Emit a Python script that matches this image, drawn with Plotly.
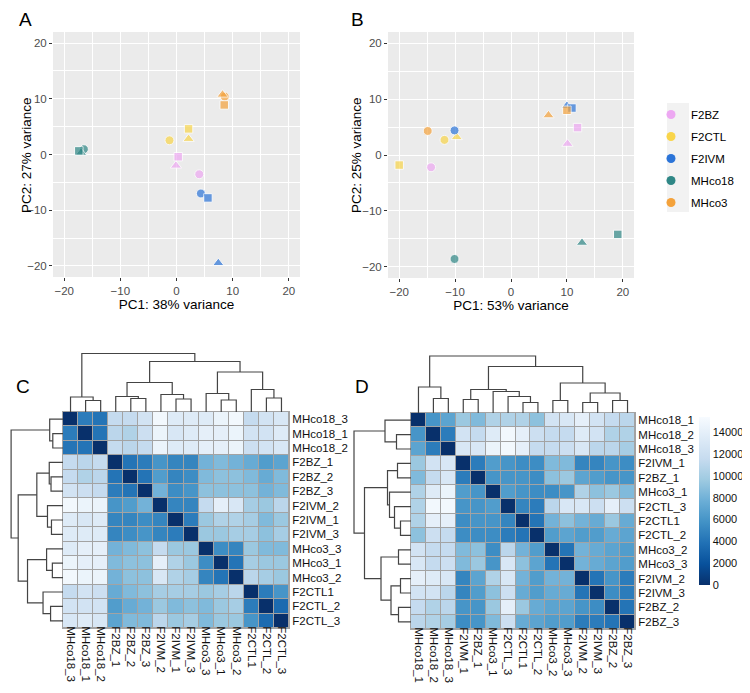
import plotly.graph_objects as go

W, H = 750, 693
OFF = 8  # the html page puts the figure 8px in from the top-left
FW, FH = W - OFF, H - OFF

# ---- PCA data -------------------------------------------------------------
groups = ["F2BZ", "F2CTL", "F2IVM", "MHco18", "MHco3"]
group_colors = ["#EDA8F2", "#F9D54A", "#2B74D8", "#2F8786", "#F4A23B"]
rep_symbols = ["circle", "triangle-up", "square"]

sample_group = ["F2BZ"] * 3 + ["F2CTL"] * 3 + ["F2IVM"] * 3 + ["MHco18"] * 3 + ["MHco3"] * 3
sample_rep = [0, 1, 2] * 5

a_pc1 = [4.05, -0.1, 0.3, -1.25, 2.15, 2.15, 4.35, 7.45, 5.6, -16.5, -17.0, -17.4, 8.6, 8.2, 8.5]
a_pc2 = [-3.55, -2.0, -0.4, 2.55, 2.8, 4.6, -7.0, -19.5, -7.8, 0.95, 0.3, 0.65, 10.4, 10.75, 8.9]
b_pc1 = [-14.3, 10.1, 11.9, -11.9, -9.7, -20.0, -10.1, 10.0, 10.9, -10.1, 12.7, 19.1, -14.9, 6.7, 10.0]
b_pc2 = [-2.2, 2.0, 4.9, 2.7, 3.2, -1.8, 4.4, 8.8, 8.4, -18.6, -15.7, -14.2, 4.3, 7.1, 8.0]

pca_ticks = [-20, -10, 0, 10, 20]
pca_minor = [-15, -5, 5, 15]

# ---- distance heatmaps -----------------------------------------------------
c_labels = ["MHco18_3", "MHco18_1", "MHco18_2", "F2BZ_1", "F2BZ_2", "F2BZ_3",
            "F2IVM_2", "F2IVM_1", "F2IVM_3", "MHco3_3", "MHco3_1", "MHco3_2",
            "F2CTL1", "F2CTL_2", "F2CTL_3"]
# upper triangle, thousands
c_upper = [
    [4.5, 4.0, 11.5, 11.5, 12.5, 15.0, 13.5, 13.5, 13.5, 14.5, 15.0, 11.5, 12.5, 13.0],
    [4.0, 11.0, 10.5, 12.0, 14.5, 13.0, 13.5, 14.0, 14.0, 14.5, 12.5, 12.5, 13.5],
    [11.5, 11.0, 11.5, 14.5, 13.5, 13.5, 14.0, 14.0, 14.5, 12.0, 12.5, 13.0],
    [4.0, 4.5, 6.0, 5.0, 5.0, 8.0, 8.5, 8.0, 7.5, 6.5, 7.0],
    [4.0, 6.5, 5.0, 5.5, 8.5, 9.0, 9.0, 8.5, 7.5, 8.5],
    [8.0, 5.5, 6.0, 9.0, 9.0, 9.0, 9.0, 8.0, 8.5],
    [5.0, 5.0, 11.5, 14.0, 13.0, 10.0, 9.5, 11.0],
    [4.5, 9.5, 10.5, 10.5, 10.0, 8.5, 9.5],
    [9.5, 9.5, 10.0, 10.0, 9.0, 10.0],
    [5.5, 5.0, 9.5, 8.5, 8.5],
    [4.0, 10.0, 9.5, 9.5],
    [11.0, 10.0, 9.5],
    [4.5, 6.0],
    [3.5],
]
# merges: (a, b, height); new cluster ids continue from n
c_merges = [(1, 2, 11.5), (0, 15, 15), (4, 5, 13.5), (3, 17, 15.5), (7, 8, 13),
            (6, 19, 17.5), (18, 20, 29.5), (10, 11, 12), (9, 22, 18.5), (13, 14, 14),
            (12, 24, 22.5), (23, 25, 40), (21, 26, 50.5), (16, 27, 58.5)]

d_labels = ["MHco18_1", "MHco18_2", "MHco18_3", "F2IVM_1", "F2BZ_1", "MHco3_1",
            "F2CTL_3", "F2CTL1", "F2CTL_2", "MHco3_2", "MHco3_3", "F2IVM_2",
            "F2IVM_3", "F2BZ_2", "F2BZ_3"]
d_upper = [
    [6.0, 7.0, 9.5, 8.5, 10.5, 10.5, 10.5, 9.0, 12.5, 13.0, 14.0, 12.5, 11.5, 11.0],
    [4.5, 12.5, 11.5, 13.5, 15.0, 14.0, 12.0, 11.5, 11.5, 13.5, 12.5, 10.5, 10.5],
    [13.0, 13.0, 14.5, 15.0, 14.0, 11.5, 11.5, 12.0, 13.0, 11.0, 11.0, 10.0],
    [4.5, 6.5, 6.0, 5.5, 5.5, 8.5, 8.5, 5.0, 5.0, 6.0, 5.5],
    [6.0, 6.0, 6.0, 5.5, 9.0, 9.5, 7.0, 6.5, 6.0, 6.0],
    [6.5, 6.0, 5.5, 5.5, 6.0, 10.5, 9.0, 9.5, 8.5],
    [5.0, 4.5, 11.0, 13.0, 13.0, 12.0, 14.0, 12.0],
    [4.0, 8.0, 9.0, 8.0, 7.5, 9.5, 7.5],
    [6.5, 7.0, 6.5, 6.5, 7.5, 7.0],
    [4.0, 8.0, 7.5, 7.0, 6.5],
    [8.0, 7.5, 7.0, 6.5],
    [4.0, 6.0, 4.5],
    [5.5, 4.5],
    [4.0],
]
d_merges = [(1, 2, 14.5), (0, 15, 26), (3, 4, 13.5), (7, 8, 10.5), (6, 18, 16.5),
            (5, 19, 21.5), (17, 20, 23.5), (9, 10, 12.5), (11, 12, 10.5), (13, 14, 12.5),
            (23, 24, 20), (22, 25, 30), (21, 26, 46.5), (16, 27, 57)]

blues_rev = ["#08306b", "#08519c", "#2171b5", "#4292c6", "#6baed6",
             "#9ecae1", "#c6dbef", "#deebf7", "#f7fbff"]
z_max = 15400
cbar_ticks = [0, 2000, 4000, 6000, 8000, 10000, 12000, 14000]


def full_matrix(upper):
    n = len(upper) + 1
    m = [[0.0] * n for _ in range(n)]
    for i, row in enumerate(upper):
        for k, v in enumerate(row):
            j = i + 1 + k
            m[i][j] = m[j][i] = v * 1000
    return m


def dendro_lines(merges, n):
    pos = {i: float(i) for i in range(n)}
    hgt = {i: 0.0 for i in range(n)}
    xs, ys = [], []
    for k, (a, b, h) in enumerate(merges):
        xs += [pos[a], pos[a], pos[b], pos[b], None]
        ys += [hgt[a], h, h, hgt[b], None]
        pos[n + k] = (pos[a] + pos[b]) / 2
        hgt[n + k] = h
    return xs, ys


def px_x(p):
    return (max(p, OFF) - OFF) / FW


def px_y(p):
    return 1 - (max(p, OFF) - OFF) / FH


def dom_x(a, b):
    return [px_x(a), px_x(b)]


def dom_y(top, bottom):
    return [px_y(bottom), px_y(top)]


fig = go.Figure()

# ---- PCA panels -------------------------------------------------------------
for ax, (px_, py_) in [("", (a_pc1, a_pc2)), ("2", (b_pc1, b_pc2))]:
    for g, col in zip(groups, group_colors):
        idx = [i for i, s in enumerate(sample_group) if s == g]
        fig.add_trace(go.Scatter(
            x=[px_[i] for i in idx], y=[py_[i] for i in idx], mode="markers",
            marker=dict(color=col, size=[9, 10, 8.5],
                        symbol=[rep_symbols[sample_rep[i]] for i in idx]),
            xaxis="x" + ax, yaxis="y" + ax, showlegend=False, name=g,
        ))

for g, col in zip(groups, group_colors):
    fig.add_trace(go.Scatter(
        x=[None], y=[None], mode="markers", name=g, legendgroup=g,
        marker=dict(color=col, size=9, symbol="circle"), xaxis="x", yaxis="y",
    ))

pca_axis = dict(
    range=[-22, 22], tickvals=pca_ticks, showgrid=True, gridcolor="white", gridwidth=1.1,
    minor=dict(tickvals=pca_minor, showgrid=True, gridcolor="white", gridwidth=0.5, ticks=""),
    ticks="outside", ticklen=3, tickcolor="#333333", zeroline=False, showline=False,
    tickfont=dict(size=11.5, color="#4D4D4D"),
)
title_font = dict(size=13.5, color="black")

fig.update_layout(
    xaxis=dict(pca_axis, domain=dom_x(53, 300), anchor="y",
               title=dict(text="PC1: 38% variance", font=title_font, standoff=1)),
    yaxis=dict(pca_axis, domain=dom_y(32, 277), anchor="x"),
    xaxis2=dict(pca_axis, domain=dom_x(388, 634), anchor="y2",
                title=dict(text="PC1: 53% variance", font=title_font, standoff=1)),
    yaxis2=dict(pca_axis, domain=dom_y(32, 278), anchor="x2"),
)
# y titles sit close to the tick labels, as in ggplot
for txt, x, y in [("PC2: 27% variance", 27, 155), ("PC2: 25% variance", 357, 155)]:
    fig.add_annotation(text=txt, x=px_x(x), y=px_y(y), xref="paper", yref="paper",
                       textangle=-90, showarrow=False, font=title_font,
                       xanchor="center", yanchor="middle")

# ---- heatmaps + dendrograms ------------------------------------------------
panels = [
    (c_labels, c_upper, c_merges, (63, 289, 412, 628), 3),
    (d_labels, d_upper, d_merges, (411, 635, 413, 629), 6),
]
n = 15
for labels, upper, merges, (x0, x1, y0, y1), k in panels:
    hx, hy = "x%d" % k, "y%d" % k
    cx, cy = "x%d" % (k + 1), "y%d" % (k + 1)
    rx, ry = "x%d" % (k + 2), "y%d" % (k + 2)
    fig.add_trace(go.Heatmap(
        z=full_matrix(upper), x=list(range(n)), y=list(range(n)),
        coloraxis="coloraxis", xgap=1, ygap=1, xaxis=hx, yaxis=hy,
    ))
    lx, ly = dendro_lines(merges, n)
    line = dict(color="#444444", width=1.2)
    fig.add_trace(go.Scatter(x=lx, y=ly, mode="lines", line=line,
                             xaxis=cx, yaxis=cy, showlegend=False, hoverinfo="skip"))
    fig.add_trace(go.Scatter(x=ly, y=lx, mode="lines", line=line,
                             xaxis=rx, yaxis=ry, showlegend=False, hoverinfo="skip"))
    tf = dict(size=11.5, color="#111111")
    fig.layout["xaxis%d" % k] = dict(
        domain=dom_x(x0, x1), anchor=hy, range=[-0.5, n - 0.5], tickvals=list(range(n)),
        ticktext=labels, tickangle=90, ticks="", showgrid=False, zeroline=False,
        showline=True, mirror=True, linecolor="#A3A3A3", linewidth=1, tickfont=tf,
        ticklabelstandoff=-5)
    fig.layout["yaxis%d" % k] = dict(
        domain=dom_y(y0, y1), anchor=hx, range=[n - 0.5, -0.5], tickvals=list(range(n)),
        ticktext=labels, side="right", ticks="", showgrid=False, zeroline=False,
        showline=True, mirror=True, linecolor="#A3A3A3", linewidth=1, tickfont=tf)
    hidden = dict(visible=False, showgrid=False, zeroline=False)
    fig.layout["xaxis%d" % (k + 1)] = dict(hidden, domain=dom_x(x0, x1), anchor=cy,
                                           range=[-0.5, n - 0.5])
    fig.layout["yaxis%d" % (k + 1)] = dict(hidden, domain=dom_y(y0 - 62, y0), anchor=cx,
                                           range=[0, 62])
    fig.layout["xaxis%d" % (k + 2)] = dict(hidden, domain=dom_x(x0 - 62, x0), anchor=ry,
                                           range=[62, 0])
    fig.layout["yaxis%d" % (k + 2)] = dict(hidden, domain=dom_y(y0, y1), anchor=rx,
                                           range=[n - 0.5, -0.5])
    fig.add_shape(type="rect", xref=hx + " domain", yref=hy + " domain", x0=0, x1=1, y0=0, y1=1,
                  fillcolor="#A3A3A3", line_width=0, layer="below")

for ax in ["x", "x2"]:
    fig.add_shape(type="rect", xref=ax + " domain", yref=ax.replace("x", "y") + " domain",
                  x0=0, x1=1, y0=0, y1=1, fillcolor="#EBEBEB", line_width=0, layer="below")

# legend key background (ggplot style)
fig.add_shape(type="rect", xref="paper", yref="paper", x0=px_x(667), x1=px_x(689),
              y0=px_y(212), y1=px_y(103), fillcolor="#F2F2F2", line_width=0, layer="below")

for txt, x, y in [("A", 25, 20), ("B", 357, 20), ("C", 23, 386), ("D", 362, 387)]:
    fig.add_annotation(text=txt, x=px_x(x), y=px_y(y), xref="paper", yref="paper",
                       showarrow=False, font=dict(size=19, color="black"),
                       xanchor="center", yanchor="middle")

fig.update_layout(
    width=FW, height=FH, margin=dict(l=0, r=0, t=0, b=0),
    paper_bgcolor="white", plot_bgcolor="white",
    font=dict(family="Arial, Liberation Sans, sans-serif", color="black"),
    coloraxis=dict(
        cmin=0, cmax=z_max,
        colorscale=[[i / 8, c] for i, c in enumerate(blues_rev)],
        colorbar=dict(x=px_x(699), xanchor="left", xpad=0, thickness=11,
                      lenmode="pixels", len=168, y=px_y(501), yanchor="middle",
                      ypad=0, tickvals=cbar_ticks, ticktext=[str(v) for v in cbar_ticks],
                      ticks="", outlinewidth=0,
                      tickfont=dict(size=11, color="#111111")),
    ),
    legend=dict(x=px_x(651), y=px_y(100), xanchor="left", yanchor="top",
                font=dict(size=11.5), tracegroupgap=3, bgcolor="rgba(0,0,0,0)"),
    showlegend=True,
)

fig.write_html("out.html")
